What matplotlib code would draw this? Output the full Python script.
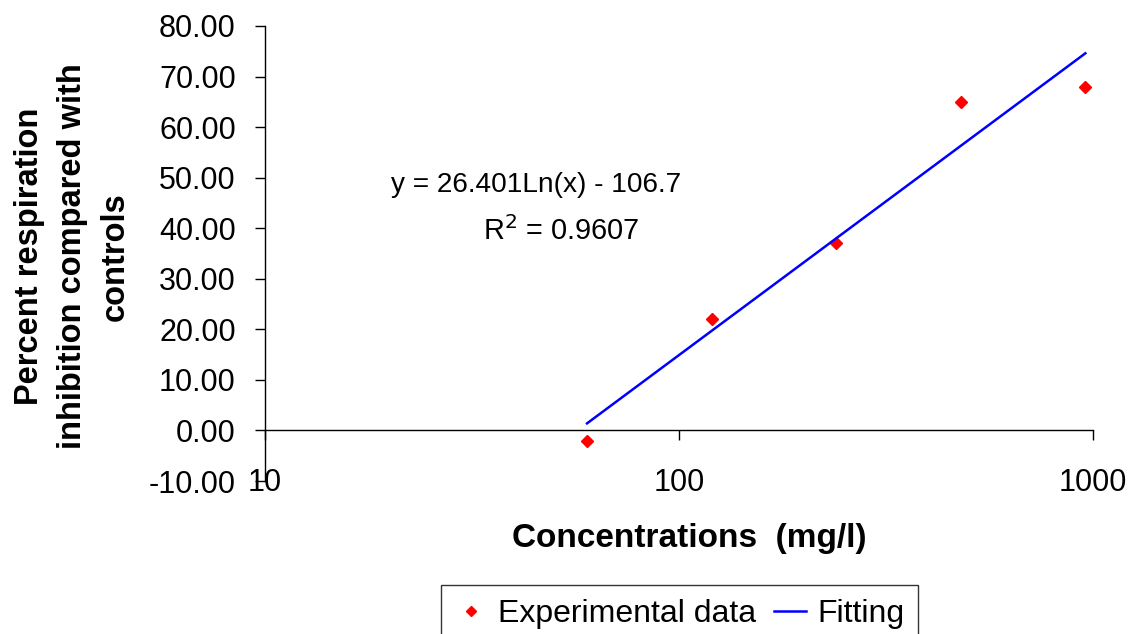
import matplotlib
matplotlib.use("Agg")
import matplotlib.pyplot as plt
from matplotlib.ticker import FixedLocator, NullLocator

conc = [60, 120, 240, 480, 960]
inhibition = [-2.0, 22.0, 37.0, 65.0, 68.0]
fit_x = [60, 960]
fit_y = [1.4, 74.6]
yticks = [-10, 0, 10, 20, 30, 40, 50, 60, 70, 80]
xticks = [10, 100, 1000]

plt.rcParams['font.family'] = ['Liberation Sans', 'DejaVu Sans']

fig = plt.figure(figsize=(11.3, 6.34), dpi=100)
ax = fig.add_axes([0.2345, 0.2413, 0.967 - 0.2345, 0.959 - 0.2413])

ax.plot(conc, inhibition, linestyle='none', marker='D', color='red', ms=6.5,
        label='Experimental data')
ax.plot(fit_x, fit_y, color='#0000ff', lw=1.8, label='Fitting')

ax.set_xscale('log')
ax.set_xlim(10, 1000)
ax.set_ylim(-10, 80)
ax.xaxis.set_major_locator(FixedLocator(xticks))
ax.xaxis.set_minor_locator(NullLocator())
ax.set_xticklabels([str(t) for t in xticks])
ax.yaxis.set_major_locator(FixedLocator(yticks))
ax.set_yticklabels(['%.2f' % t for t in yticks])

ax.spines['top'].set_visible(False)
ax.spines['right'].set_visible(False)
ax.spines['bottom'].set_position(('data', 0))
for s in ('left', 'bottom'):
    ax.spines[s].set_linewidth(1.0)
    ax.spines[s].set_color('black')

ax.tick_params(axis='y', direction='out', length=7, width=1, labelsize=22, pad=14)
ax.tick_params(axis='x', direction='out', length=7, width=1, labelsize=22, pad=20)

fig.text(689 / 1130, 1 - 547 / 634, 'Concentrations  (mg/l)', fontsize=24,
         fontweight='bold', ha='center', va='baseline')
fig.text(72.5 / 1130, 1 - 256.5 / 634,
         'Percent respiration\ninhibition compared with\ncontrols',
         fontsize=23.5, fontweight='bold', rotation=90, ha='center', va='center',
         linespacing=1.5, multialignment='center')

fig.text(536.5 / 1130, 1 - 192 / 634, 'y = 26.401Ln(x) - 106.7',
         ha='center', va='baseline', fontsize=20.2)
fig.text(561.5 / 1130, 1 - 240 / 634, r'R$^2$ = 0.9607',
         ha='center', va='baseline', fontsize=20.8)

leg = fig.legend(loc='upper center', bbox_to_anchor=(0.6013, 1 - 585 / 634), ncol=2,
                 fontsize=23, frameon=True, fancybox=False, handlelength=1.0,
                 handletextpad=0.35, columnspacing=0.55, borderpad=0.45,
                 borderaxespad=0.0, markerscale=0.85)
leg.get_frame().set_edgecolor('black')
leg.get_frame().set_linewidth(1.0)

fig.savefig('out.png', dpi=100)
